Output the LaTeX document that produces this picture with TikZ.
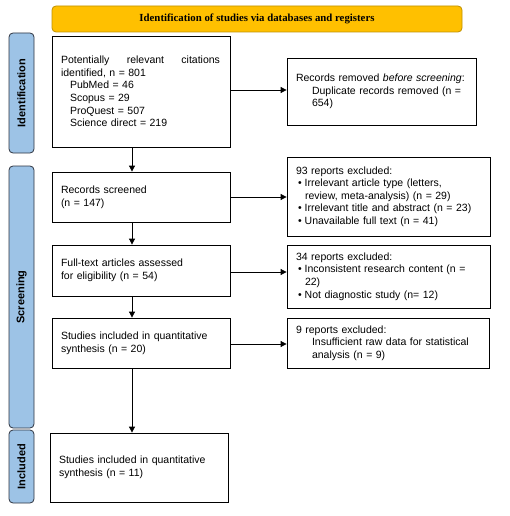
\documentclass[tikz,border=0pt]{standalone}
\usepackage{fontspec}
\setmainfont{Liberation Sans}
\newfontfamily\titlefont{Liberation Serif}
\usetikzlibrary{arrows.meta}
\definecolor{titlefill}{HTML}{FFC000}
\definecolor{titledraw}{HTML}{BF9000}
\definecolor{barfill}{HTML}{9DC3E6}
\definecolor{bardraw}{HTML}{2E3440}
\tikzset{
  box/.style={draw=black, line width=0.8pt, inner xsep=9pt, inner ysep=0pt, align=left,
    font=\fontsize{10.5}{12.6}\selectfont},
  titlebox/.style={draw=titledraw, fill=titlefill, line width=0.8pt, rounded corners=4pt,
    font=\titlefont\bfseries\fontsize{10.8}{12}\selectfont},
  bar/.style={draw=bardraw, fill=barfill, line width=0.8pt, rounded corners=4pt, rotate=90,
    font=\bfseries\fontsize{11}{13}\selectfont},
  arr/.style={line width=0.8pt, -{Triangle[length=6pt,width=6pt]}}
}
\begin{document}
\begin{tikzpicture}[x=1pt,y=-1pt]
\useasboundingbox (0,0) rectangle (509,516);
\node[titlebox, minimum width=410pt, minimum height=26pt] (title) at (257,19) {Identification of studies via databases and registers};
\node[bar, minimum width=120pt, minimum height=25pt] (bid) at (21.5,93) {Identification};
\node[bar, minimum width=262pt, minimum height=25pt] (bscr) at (21.5,297) {Screening};
\node[bar, minimum width=73pt, minimum height=25pt] (binc) at (21.5,466.5) {Included};

\node[box, text width=160pt, minimum height=111pt] (ident) at (141,91.5) {\hbox to 159pt{Potentially\hfill relevant\hfill citations}\\
identified, n = 801\\
\hspace*{9pt}PubMed = 46\\
\hspace*{9pt}Scopus = 29\\
\hspace*{9pt}ProQuest = 507\\
\hspace*{9pt}Science direct = 219};
\node[box, text width=171pt, minimum height=67pt] (removed) at (381.5,91.5) {Records removed \textit{before screening}:\\
\hspace*{16pt}Duplicate records removed (n =\\
\hspace*{16pt}654)};

\node[box, text width=160pt, minimum height=50pt] (screened) at (141,197) {Records screened\\(n = 147)};
\node[box, text width=185pt, minimum height=79pt] (excl1) at (388.5,196.5) {93 reports excluded:\\
\hspace*{2pt}\textbullet\hspace{3pt}Irrelevant article type (letters,\\
\hspace*{9pt}review, meta-analysis) (n = 29)\\
\hspace*{2pt}\textbullet\hspace{3pt}Irrelevant title and abstract (n = 23)\\
\hspace*{2pt}\textbullet\hspace{3pt}Unavailable full text (n = 41)};

\node[box, text width=160pt, minimum height=51pt] (full) at (141,270.5) {Full-text articles assessed\\for eligibility (n = 54)};
\node[box, text width=185pt, minimum height=63pt] (excl2) at (388.5,276.5) {34 reports excluded:\\
\hspace*{2pt}\textbullet\hspace{3pt}Inconsistent research content (n =\\
\hspace*{9pt}22)\\
\hspace*{2pt}\textbullet\hspace{3pt}Not diagnostic study (n= 12)};

\node[box, text width=160pt, minimum height=50pt] (stud) at (141,343) {Studies included in quantitative\\synthesis (n = 20)};
\node[box, text width=184pt, minimum height=50pt] (excl3) at (388,343) {9 reports excluded:\\
\hspace*{16pt}Insufficient raw data for statistical\\
\hspace*{16pt}analysis (n = 9)};

\node[box, text width=160pt, minimum height=69pt] (incl) at (139,467.5) {Studies included in quantitative\\synthesis (n = 11)};

\coordinate (col) at (132,0);
\draw[arr] (ident.south -| col) -- (screened.north -| col);
\draw[arr] (screened.south -| col) -- (full.north -| col);
\draw[arr] (full.south -| col) -- (stud.north -| col);
\draw[arr] (stud.south -| col) -- (incl.north -| col);

\draw[arr] ([yshift=1.5pt]ident.east) -- ([yshift=1.5pt]ident.east -| removed.west);
\draw[arr] (screened.east) -- (screened.east -| excl1.west);
\draw[arr] ([yshift=-1.5pt]full.east) -- ([yshift=-1.5pt]full.east -| excl2.west);
\draw[arr] ([yshift=-1pt]stud.east) -- ([yshift=-1pt]stud.east -| excl3.west);
\end{tikzpicture}
\end{document}
